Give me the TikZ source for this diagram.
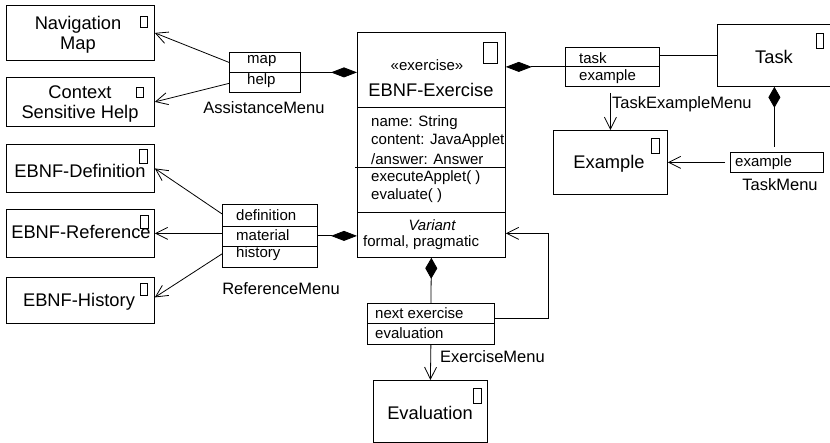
\documentclass[tikz,border=0pt]{standalone}
\usepackage{fontspec}
\setmainfont{Liberation Sans}
\usetikzlibrary{arrows.meta,calc}
\begin{document}
\begin{tikzpicture}[x=1pt,y=-1pt,
  box/.style={draw, line width=0.8pt, inner sep=0pt, anchor=north west},
  icon/.style={draw, line width=0.7pt},
  big/.style={font=\fontsize{18.3}{20.5}\selectfont, inner sep=0pt},
  small/.style={font=\fontsize{15}{18}\selectfont, inner sep=0pt},
  lab/.style={font=\fontsize{16.5}{19}\selectfont, inner sep=0pt},
  con/.style={line width=0.8pt},
  openarrow/.style={con, -{Straight Barb[length=12pt,width=12pt]}},
  hdia/.style={con, -{Diamond[length=26pt,width=10pt]}},
  hdiastart/.style={con, {Diamond[length=26pt,width=10pt]}-},
  vdiastart/.style={con, {Diamond[length=21pt,width=12pt]}-}
]
\useasboundingbox (0,0) rectangle (830,443);

% ---------- boxes ----------
\node[box, minimum width=148pt, minimum height=55pt] (nav) at (6,5) {};
\node[box, minimum width=148pt, minimum height=49pt] (csh) at (6,77) {};
\node[box, minimum width=71pt, minimum height=40pt] (asm) at (229,52) {};
\node[box, minimum width=148pt, minimum height=225pt] (ex) at (357,32) {};
\node[box, minimum width=94pt, minimum height=39pt] (tem) at (565,47) {};
\node[box, minimum width=114pt, minimum height=62pt] (task) at (717,24) {};
\node[box, minimum width=93pt, minimum height=20pt] (tm) at (730,152) {};
\node[box, minimum width=114pt, minimum height=64pt] (exa) at (553,130) {};
\node[box, minimum width=148pt, minimum height=48pt] (def) at (6,144) {};
\node[box, minimum width=148pt, minimum height=48pt] (ref) at (6,209) {};
\node[box, minimum width=148pt, minimum height=46pt] (his) at (6,277) {};
\node[box, minimum width=95pt, minimum height=63pt] (rm) at (222,204) {};
\node[box, minimum width=127pt, minimum height=41pt] (em) at (367,303) {};
\node[box, minimum width=114pt, minimum height=62pt] (eval) at (373,380) {};

% ---------- compartment lines ----------
\draw[con] (asm.west) -- (asm.east);
\draw[con] ([yshift=-75pt]ex.north west) -- ([yshift=-75pt]ex.north east);
\draw[con] ([xshift=-2pt,yshift=-135pt]ex.north west) -- ([yshift=-135pt]ex.north east);
\draw[con] ([yshift=-180pt]ex.north west) -- ([yshift=-180pt]ex.north east);
\draw[con] (tem.west) -- (tem.east);
\draw[con] ([yshift=-22pt]rm.north west) -- ([yshift=-22pt]rm.north east);
\draw[con] ([yshift=-42pt]rm.north west) -- ([yshift=-42pt]rm.north east);
\draw[con] ([yshift=-20pt]em.north west) -- ([yshift=-20pt]em.north east);

% ---------- icons ----------
\draw[icon] (140,16) rectangle (147,27);
\draw[icon] (136,87) rectangle (143,97);
\draw[icon] (483,42) rectangle (497,63);
\draw[icon] (816,33) rectangle (823,48);
\draw[icon] (651,138) rectangle (659,153);
\draw[icon] (139,149) rectangle (147,163);
\draw[icon] (140,215) rectangle (148,228);
\draw[icon] (140,283) rectangle (147,295);
\draw[icon] (473,388) rectangle (481,403);

% ---------- texts ----------
\node[big, align=center] (navT) at (78,35) {Navigation\\Map};
\node[big, align=center] (cshT) at (80,104) {Context\\Sensitive Help};
\node[small, anchor=west] (asm1) at (247,61) {map};
\node[small, anchor=west] (asm2) at (247,81) {help};
\node[lab] (asmL) at (264,108) {AssistanceMenu};

\node[small] (exS) at (427,65) {«exercise»};
\node[big] (exN) at (431,90) {EBNF-Exercise};
\node[small, anchor=west] (exA1) at (371,123) {name: String};
\node[small, anchor=west] (exA2) at (371,141) {content: JavaApplet};
\node[small, anchor=west] (exA3) at (371,159) {/answer: Answer};
\node[small, anchor=west] (exO1) at (371,178) {executeApplet( )};
\node[small, anchor=west] (exO2) at (371,196) {evaluate( )};
\node[small, font=\fontsize{15}{18}\selectfont\itshape] (exV) at (432,225) {Variant};
\node[small, anchor=west] (exV2) at (363,243) {formal, pragmatic};

\node[small, anchor=west] (tem1) at (579,58) {task};
\node[small, anchor=west] (tem2) at (579,77) {example};
\node[lab, anchor=west] (temL) at (612,104) {TaskExampleMenu};
\node[big] (taskT) at (774,57) {Task};
\node[small, anchor=west] (tm1) at (735,163) {example};
\node[lab] (tmL) at (780,185) {TaskMenu};
\node[big] (exaT) at (609,164) {Example};

\node[big] (defT) at (80,171) {EBNF-Definition};
\node[big] (refT) at (81,232) {EBNF-Reference};
\node[big] (hisT) at (79,302) {EBNF-History};
\node[small, anchor=west] (rm1) at (236,215) {definition};
\node[small, anchor=west] (rm2) at (236,235) {material};
\node[small, anchor=west] (rm3) at (236,254) {history};
\node[lab] (rmL) at (281,289) {ReferenceMenu};

\node[small, anchor=west] (em1) at (375,313) {next exercise};
\node[small, anchor=west] (em2) at (375,333) {evaluation};
\node[lab, anchor=west] (emL) at (440,357) {ExerciseMenu};
\node[big] (evalT) at (430,413) {Evaluation};

% ---------- connectors ----------
\draw[openarrow] ([yshift=10pt]asm.west) -- (nav.east);
\draw[openarrow] ([yshift=-11pt]asm.west) -- (csh.east);
\draw[hdia] ([xshift=-24pt]asm.east) -- (ex.west |- asm.east);

\draw[hdiastart] (ex.east |- tem.west) -- (tem.west);
\draw[con] (tem.east |- task.west) -- (task.west);
\draw[openarrow] ($(exa.north |- tem.south)+(0,6)$) -- (exa.north);
\draw[vdiastart] (task.south) -- ($(task.south |- tm.north)+(0,-5)$);
\draw[openarrow] ($(tm.west)+(-5,0)$) -- (exa.east);

\draw[openarrow] ([yshift=22pt]rm.west) -- (def.east);
\draw[openarrow] (rm.west |- ref.east) -- (ref.east);
\draw[openarrow] ([yshift=-18pt]rm.west) -- ([yshift=3pt]his.east);
\draw[hdia] (rm.east) -- (ex.west |- rm.east);

\draw[vdiastart] (ex.south) -- (em.north);
\draw[openarrow] ([yshift=5pt]em.east) -- ++(54,0) |- ([yshift=-88.5pt]ex.east);
\draw[openarrow] (em.south) -- (eval.north);
\end{tikzpicture}
\end{document}
